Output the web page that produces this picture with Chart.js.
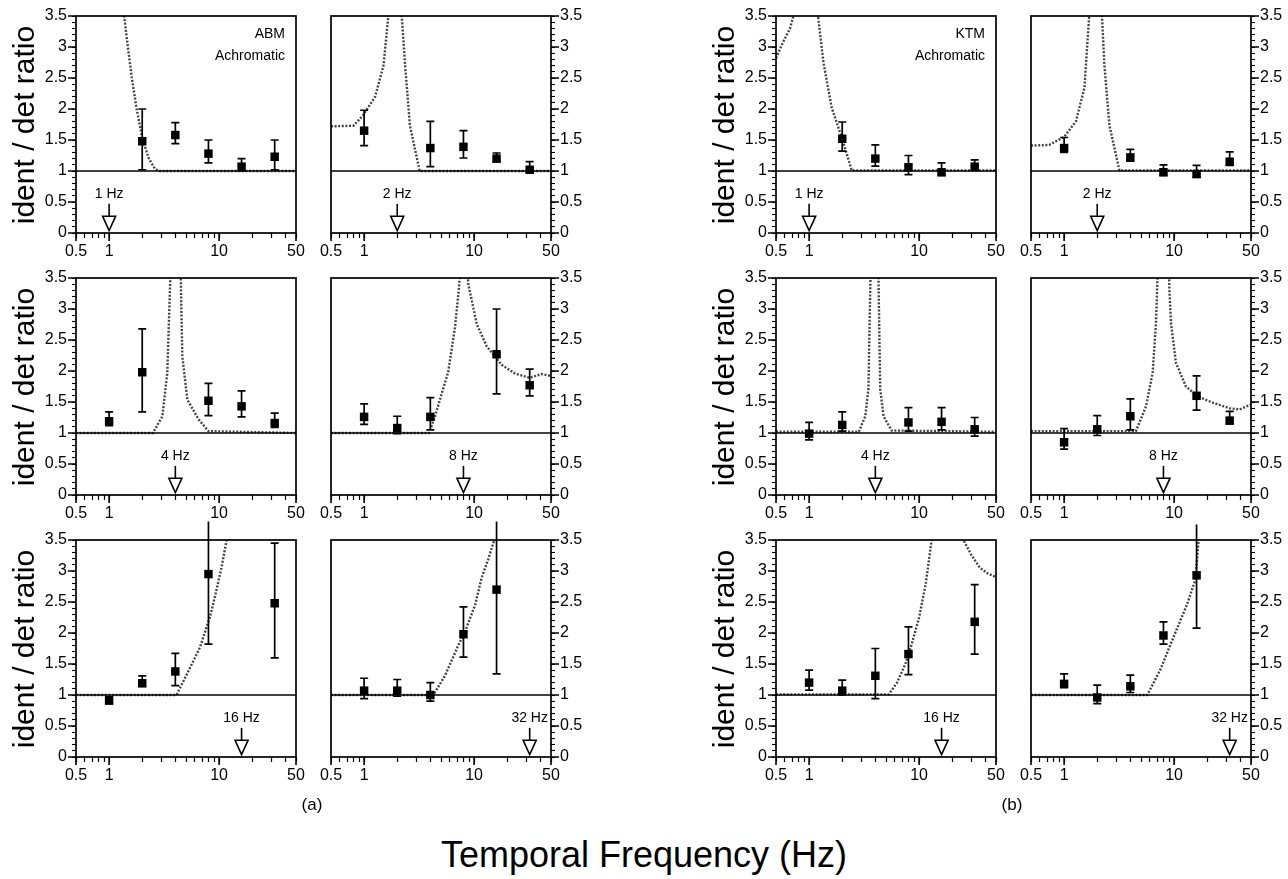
<!DOCTYPE html>
<html><head><meta charset="utf-8">
<script src="https://cdn.jsdelivr.net/npm/chart.js@4.4.0/dist/chart.umd.min.js"></script>
<style>
html,body{margin:0;padding:0;background:#fff;}
#wrap{position:relative;width:1288px;height:879px;overflow:hidden;font-family:"Liberation Sans",Arial,Helvetica,sans-serif;color:#000;}
#wrap canvas{position:absolute;}
.ylab{position:absolute;font-size:30px;white-space:nowrap;transform:translate(-50%,-50%) rotate(-90deg);line-height:1;}
.sub{position:absolute;font-size:17px;transform:translate(-50%,-50%);line-height:1;}
.main{position:absolute;font-size:36px;transform:translate(-50%,-50%);white-space:nowrap;line-height:1;}
</style></head><body><div id="wrap"></div>
<script>
// ---------------- data ----------------
const freqs = [1, 2, 4, 8, 16, 32];
const testFreqs = [1, 2, 4, 8, 16, 32];
const refLevel = 1;
const xMajorTicks = [0.5, 1, 10, 50];
const xMinorTicks = [0.6, 0.7, 0.8, 0.9, 2, 3, 4, 5, 6, 7, 8, 9, 20, 30, 40];
const yMajorTicks = [0, 0.5, 1, 1.5, 2, 2.5, 3, 3.5];
const yTitle = 'ident / det ratio';
const xTitle = 'Temporal Frequency (Hz)';
const groupLabels = ['(a)', '(b)'];
const abmTitle = ['ABM', 'Achromatic'];
const ktmTitle = ['KTM', 'Achromatic'];

// ABM (a)
const abm1Ratio = [null, 1.48, 1.58, 1.28, 1.07, 1.23];
const abm1Lo    = [null, 1.02, 1.44, 1.13, 1.00, 1.02];
const abm1Hi    = [null, 2.00, 1.78, 1.50, 1.20, 1.50];
const abm1CurveX = [1.25, 1.37, 1.48, 1.61, 1.78, 2.02, 2.3, 2.6, 2.8, 50];
const abm1CurveY = [4.2, 3.5, 3.0, 2.5, 2.0, 1.5, 1.2, 1.04, 1.0, 1.0];

const abm2Ratio = [1.65, null, 1.37, 1.39, 1.20, 1.02];
const abm2Lo    = [1.41, null, 1.07, 1.21, 1.15, 0.98];
const abm2Hi    = [1.98, null, 1.80, 1.65, 1.29, 1.15];
const abm2CurveX = [0.5, 0.8, 0.98, 1.26, 1.5, 1.66, 1.78, null, 2.1, 2.2, 2.36, 2.61, 3.2, 50];
const abm2CurveY = [1.72, 1.73, 1.9, 2.2, 2.7, 3.5, 4.5, null, 4.5, 3.5, 2.7, 1.73, 1.0, 1.0];

const abm3Ratio = [1.19, 1.98, null, 1.52, 1.43, 1.16];
const abm3Lo    = [1.12, 1.34, null, 1.28, 1.26, 1.09];
const abm3Hi    = [1.34, 2.68, null, 1.80, 1.68, 1.32];
const abm3CurveX = [0.5, 2.5, 3.05, 3.38, 3.6, 3.75, null, 4.35, 4.48, 4.63, 5.14, 6.5, 8, 50];
const abm3CurveY = [1.0, 1.0, 1.27, 1.97, 3.5, 5, null, 5, 3.5, 2.24, 1.54, 1.22, 1.03, 1.0];

const abm4Ratio = [1.26, 1.08, 1.26, null, 2.27, 1.77];
const abm4Lo    = [1.14, 0.99, 1.05, null, 1.63, 1.60];
const abm4Hi    = [1.47, 1.27, 1.57, null, 3.00, 2.03];
const abm4CurveX = [0.5, 3.9, 4.41, 5.82, 6.7, 7.3, 7.6, null, 8.6, 8.85, 10.6, 13, 17.8, 23.5, 32, 41, 50];
const abm4CurveY = [1.0, 1.0, 1.27, 1.99, 2.7, 3.36, 4, null, 4, 3.4, 2.75, 2.4, 2.1, 1.96, 1.89, 1.95, 1.92];

const abm5Ratio = [0.91, 1.19, 1.38, 2.95, null, 2.48];
const abm5Lo    = [0.86, 1.14, 1.15, 1.82, null, 1.60];
const abm5Hi    = [0.97, 1.31, 1.67, 3.80, null, 3.45];
const abm5CurveX = [0.5, 4.1, 5.24, 6.7, 8.26, 9.2, 10.5, 11.7, 12.5];
const abm5CurveY = [1.0, 1.0, 1.38, 1.77, 2.26, 2.6, 3.05, 3.5, 3.8];

const abm6Ratio = [1.07, 1.07, 1.00, 1.98, 2.70, null];
const abm6Lo    = [0.94, 0.98, 0.90, 1.61, 1.34, null];
const abm6Hi    = [1.27, 1.25, 1.20, 2.42, 3.80, null];
const abm6CurveX = [0.5, 4.26, 5.43, 7.18, 8.26, 10.2, 11.7, 13.5, 15.5, 17];
const abm6CurveY = [1.0, 1.0, 1.31, 1.8, 2.02, 2.45, 2.89, 3.2, 3.54, 3.8];

// KTM (b)
const ktm1Ratio = [null, 1.52, 1.20, 1.06, 0.98, 1.07];
const ktm1Lo    = [null, 1.32, 1.08, 0.94, 0.93, 1.01];
const ktm1Hi    = [null, 1.79, 1.42, 1.25, 1.13, 1.18];
const ktm1CurveX = [0.5, 0.58, 0.67, 0.74, 0.78, null, 1.12, 1.19, 1.35, 1.6, 1.98, 2.44, 50];
const ktm1CurveY = [2.82, 3.08, 3.3, 3.58, 4, null, 4, 3.58, 2.75, 2.03, 1.54, 1.01, 1.01];

const ktm2Ratio = [1.37, null, 1.22, 0.98, 0.95, 1.15];
const ktm2Lo    = [1.30, null, 1.16, 0.93, 0.90, 1.09];
const ktm2Hi    = [1.54, null, 1.35, 1.10, 1.09, 1.31];
const ktm2CurveX = [0.5, 0.73, 1.0, 1.28, 1.53, 1.69, 1.78, null, 2.12, 2.21, 2.32, 2.58, 3.18, 50];
const ktm2CurveY = [1.41, 1.42, 1.55, 1.8, 2.34, 3.5, 4.5, null, 4.5, 3.5, 2.72, 1.74, 1.01, 1.01];

const ktm3Ratio = [0.99, 1.13, null, 1.17, 1.18, 1.06];
const ktm3Lo    = [0.89, 1.03, null, 1.03, 1.05, 0.95];
const ktm3Hi    = [1.17, 1.34, null, 1.41, 1.41, 1.25];
const ktm3CurveX = [0.5, 2.83, 3.24, 3.46, 3.6, 3.7, null, 4.2, 4.28, 4.43, 4.75, 5.63, 50];
const ktm3CurveY = [1.02, 1.02, 1.27, 1.71, 3.36, 4.5, null, 4.5, 3.4, 1.71, 1.27, 1.04, 1.02];

const ktm4Ratio = [0.85, 1.06, 1.27, null, 1.60, 1.20];
const ktm4Lo    = [0.74, 0.96, 1.05, null, 1.37, 1.15];
const ktm4Hi    = [1.07, 1.28, 1.55, null, 1.92, 1.35];
const ktm4CurveX = [0.5, 4.5, 5.55, 6.38, 6.84, 7.0, 7.2, null, 8.9, 9.06, 9.37, 10.4, 12.8, 16.4, 22.4, 31.8, 39.4, 50];
const ktm4CurveY = [1.03, 1.03, 1.43, 1.97, 2.77, 3.3, 4, null, 4, 3.3, 2.77, 2.13, 1.75, 1.59, 1.49, 1.4, 1.38, 1.46];

const ktm5Ratio = [1.20, 1.07, 1.31, 1.66, null, 2.18];
const ktm5Lo    = [1.08, 1.00, 0.94, 1.33, null, 1.66];
const ktm5Hi    = [1.40, 1.24, 1.75, 2.10, null, 2.78];
const ktm5CurveX = [0.5, 5.3, 6.3, 7.5, 8.5, 10, 11.5, 13, 14, null, 23, 25.3, 30, 35.8, 42, 50];
const ktm5CurveY = [1.01, 1.01, 1.2, 1.5, 1.8, 2.25, 2.8, 3.5, 4, null, 4, 3.5, 3.25, 3.05, 2.96, 2.9];

const ktm6Ratio = [1.18, 0.96, 1.14, 1.96, 2.93, null];
const ktm6Lo    = [1.12, 0.86, 1.04, 1.82, 2.08, null];
const ktm6Hi    = [1.34, 1.16, 1.32, 2.18, 3.75, null];
const ktm6CurveX = [0.5, 5.7, 7.5, 9.9, 13.1, 15.6, 16.7, 17.5];
const ktm6CurveY = [1.0, 1.0, 1.41, 1.94, 2.46, 2.86, 3.5, 3.9];

// ---------------- layout ----------------
const FONT = '"Liberation Sans", Arial, Helvetica, sans-serif';
const colX = [76, 331, 776, 1031];
const rowY = [16, 278, 540];
const plotW = 220, plotH = 217;

const panels = [
  {col:0,row:0,test:testFreqs[0],r:abm1Ratio,lo:abm1Lo,hi:abm1Hi,cx:abm1CurveX,cy:abm1CurveY,title:abmTitle},
  {col:1,row:0,test:testFreqs[1],r:abm2Ratio,lo:abm2Lo,hi:abm2Hi,cx:abm2CurveX,cy:abm2CurveY},
  {col:0,row:1,test:testFreqs[2],r:abm3Ratio,lo:abm3Lo,hi:abm3Hi,cx:abm3CurveX,cy:abm3CurveY},
  {col:1,row:1,test:testFreqs[3],r:abm4Ratio,lo:abm4Lo,hi:abm4Hi,cx:abm4CurveX,cy:abm4CurveY},
  {col:0,row:2,test:testFreqs[4],r:abm5Ratio,lo:abm5Lo,hi:abm5Hi,cx:abm5CurveX,cy:abm5CurveY},
  {col:1,row:2,test:testFreqs[5],r:abm6Ratio,lo:abm6Lo,hi:abm6Hi,cx:abm6CurveX,cy:abm6CurveY},
  {col:2,row:0,test:testFreqs[0],r:ktm1Ratio,lo:ktm1Lo,hi:ktm1Hi,cx:ktm1CurveX,cy:ktm1CurveY,title:ktmTitle},
  {col:3,row:0,test:testFreqs[1],r:ktm2Ratio,lo:ktm2Lo,hi:ktm2Hi,cx:ktm2CurveX,cy:ktm2CurveY},
  {col:2,row:1,test:testFreqs[2],r:ktm3Ratio,lo:ktm3Lo,hi:ktm3Hi,cx:ktm3CurveX,cy:ktm3CurveY},
  {col:3,row:1,test:testFreqs[3],r:ktm4Ratio,lo:ktm4Lo,hi:ktm4Hi,cx:ktm4CurveX,cy:ktm4CurveY},
  {col:2,row:2,test:testFreqs[4],r:ktm5Ratio,lo:ktm5Lo,hi:ktm5Hi,cx:ktm5CurveX,cy:ktm5CurveY},
  {col:3,row:2,test:testFreqs[5],r:ktm6Ratio,lo:ktm6Lo,hi:ktm6Hi,cx:ktm6CurveX,cy:ktm6CurveY},
];

const wrap = document.getElementById('wrap');

// build tick lists from the named tick arrays
const xAllTicks = xMajorTicks.concat(xMinorTicks).sort((a,b)=>a-b);
const yAllTicks = [];
for (let i = 0; i < yMajorTicks.length; i++) {
  yAllTicks.push(yMajorTicks[i]);
  if (i < yMajorTicks.length - 1) {
    const step = (yMajorTicks[i+1] - yMajorTicks[i]) / 5;
    for (let k = 1; k < 5; k++) yAllTicks.push(+(yMajorTicks[i] + k*step).toFixed(3));
  }
}
const isYMajor = v => yMajorTicks.some(m => Math.abs(m - v) < 1e-6);
const isXMajor = v => xMajorTicks.some(m => Math.abs(m - v) < 1e-6);

const decoPlugin = {
  id: 'panelDeco',
  afterDatasetsDraw(chart, args, o) {
    const ctx = chart.ctx, a = chart.chartArea, x = chart.scales.x, y = chart.scales.y;
    ctx.save();
    ctx.strokeStyle = '#000';
    // longer major ticks
    ctx.lineWidth = 1.6;
    ctx.beginPath();
    xMajorTicks.forEach(v => { const px = x.getPixelForValue(v); ctx.moveTo(px, a.bottom); ctx.lineTo(px, a.bottom + 8); });
    yMajorTicks.forEach(v => {
      const py = y.getPixelForValue(v);
      if (o.leftAxis) { ctx.moveTo(a.left, py); ctx.lineTo(a.left - 8, py); }
      else { ctx.moveTo(a.right, py); ctx.lineTo(a.right + 8, py); }
    });
    ctx.stroke();
    // error bars
    ctx.lineWidth = 1.7;
    freqs.forEach((f, i) => {
      if (o.r[i] == null) return;
      const px = x.getPixelForValue(f);
      const yl = y.getPixelForValue(o.lo[i]);
      const yh = y.getPixelForValue(o.hi[i]);
      ctx.beginPath();
      ctx.moveTo(px, yl); ctx.lineTo(px, yh);
      ctx.moveTo(px - 4, yl); ctx.lineTo(px + 4, yl);
      if (o.hi[i] <= y.max) { ctx.moveTo(px - 4, yh); ctx.lineTo(px + 4, yh); }
      ctx.stroke();
    });
    // frame
    ctx.lineWidth = 1.7;
    ctx.strokeRect(a.left, a.top, a.right - a.left, a.bottom - a.top);
    // test-frequency arrow
    const ax = x.getPixelForValue(o.test);
    const stemTop = y.getPixelForValue(0.47), triTop = y.getPixelForValue(0.27), tip = y.getPixelForValue(0.04);
    ctx.lineWidth = 1.6;
    ctx.beginPath(); ctx.moveTo(ax, stemTop); ctx.lineTo(ax, triTop); ctx.stroke();
    ctx.beginPath(); ctx.moveTo(ax - 6.5, triTop); ctx.lineTo(ax + 6.5, triTop); ctx.lineTo(ax, tip); ctx.closePath();
    ctx.fillStyle = '#fff'; ctx.fill(); ctx.stroke();
    ctx.fillStyle = '#000';
    ctx.font = '14px ' + FONT; ctx.textAlign = 'center'; ctx.textBaseline = 'middle';
    ctx.fillText(o.test + ' Hz', ax, y.getPixelForValue(0.63));
    // panel title
    if (o.title) {
      ctx.textAlign = 'right'; ctx.font = '14px ' + FONT;
      ctx.fillText(o.title[0], a.right - 11, y.getPixelForValue(3.2));
      ctx.fillText(o.title[1], a.right - 11, y.getPixelForValue(2.86));
    }
    ctx.restore();
  }
};

function makePanel(p) {
  const L = colX[p.col], T = rowY[p.row];
  const leftAxis = (p.col % 2 === 0);
  const padTop = 26, xAxisH = 34, yAxisW = 60, sidePad = leftAxis ? 16 : 20;
  const cw = plotW + yAxisW + sidePad, ch = padTop + plotH + xAxisH;
  const cv = document.createElement('canvas');
  cv.width = cw; cv.height = ch;
  cv.style.width = cw + 'px'; cv.style.height = ch + 'px';
  cv.style.left = (leftAxis ? L - yAxisW : L - sidePad) + 'px';
  cv.style.top = (T - padTop) + 'px';
  wrap.appendChild(cv);

  const curve = p.cx.map((v, i) => ({x: v, y: p.cy[i]}));
  const pts = [];
  freqs.forEach((f, i) => { if (p.r[i] != null) pts.push({x: f, y: p.r[i]}); });

  new Chart(cv, {
    type: 'scatter',
    data: { datasets: [
      { data: pts, pointStyle: 'rect', pointRadius: 6, backgroundColor: '#000', borderWidth: 0, showLine: false },
      { data: [{x: 0.5, y: refLevel}, {x: 50, y: refLevel}], showLine: true, borderColor: '#000', borderWidth: 1.7, pointRadius: 0 },
      { data: curve, showLine: true, borderColor: '#444', borderWidth: 2.4, borderDash: [2, 1.6], pointRadius: 0, spanGaps: false }
    ]},
    options: {
      responsive: false, animation: false, devicePixelRatio: 1,
      layout: { padding: { top: padTop, bottom: 0, left: leftAxis ? 0 : sidePad, right: leftAxis ? sidePad : 0 } },
      plugins: { legend: {display: false}, tooltip: {enabled: false},
        panelDeco: { r: p.r, lo: p.lo, hi: p.hi, test: p.test, title: p.title, leftAxis: leftAxis } },
      scales: {
        x: { type: 'logarithmic', min: 0.5, max: 50, position: 'bottom',
          afterBuildTicks: s => { s.ticks = xAllTicks.map(v => ({value: v})); },
          afterFit: s => { s.height = xAxisH; },
          ticks: { autoSkip: false, maxRotation: 0, minRotation: 0, color: '#000', padding: 4,
            font: {family: FONT, size: 16}, callback: v => isXMajor(v) ? String(v) : '' },
          grid: { drawOnChartArea: false, drawTicks: true, tickLength: 5, color: '#000', tickColor: '#000', tickWidth: 1.2 },
          border: { display: false } },
        y: { type: 'linear', min: 0, max: 3.5, position: leftAxis ? 'left' : 'right',
          afterBuildTicks: s => { s.ticks = yAllTicks.map(v => ({value: v})); },
          afterFit: s => { s.width = yAxisW; },
          ticks: { autoSkip: false, color: '#000', padding: 5, font: {family: FONT, size: 16},
            callback: v => isYMajor(v) ? String(+(+v).toFixed(1)) : '' },
          grid: { drawOnChartArea: false, drawTicks: true, tickLength: 4, color: '#000', tickColor: '#000', tickWidth: 1.1 },
          border: { display: false } }
      }
    },
    plugins: [decoPlugin]
  });
}
panels.forEach(makePanel);

// shared text
function addText(cls, txt, x, y) {
  const d = document.createElement('div'); d.className = cls; d.textContent = txt;
  d.style.left = x + 'px'; d.style.top = y + 'px'; wrap.appendChild(d);
}
[0, 2].forEach(c => rowY.forEach(t => addText('ylab', yTitle, colX[c] - 52, t + plotH / 2)));
addText('sub', groupLabels[0], 312, 804);
addText('sub', groupLabels[1], 1012, 804);
addText('main', xTitle, 644, 855);
</script>
</body></html>
